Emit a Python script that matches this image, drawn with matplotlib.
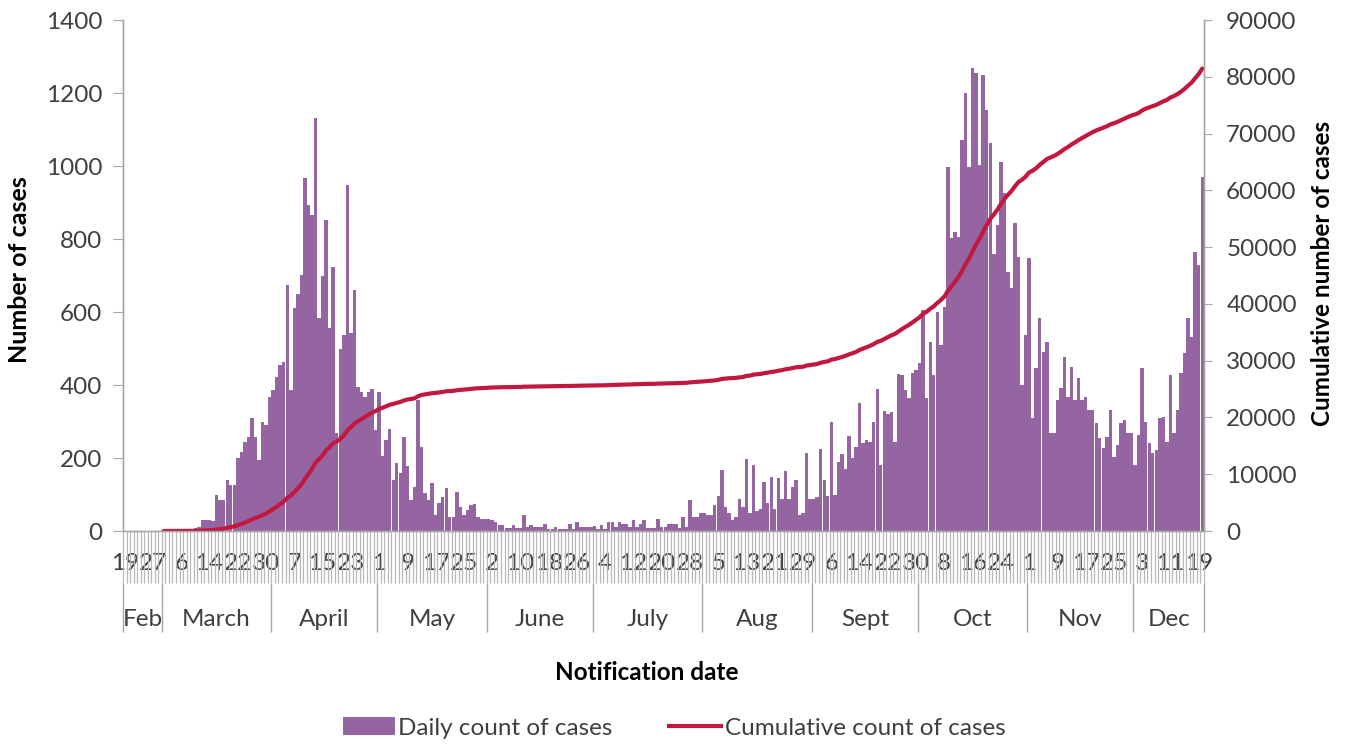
import numpy as np
import pandas as pd
import matplotlib
matplotlib.use('Agg')
import matplotlib.pyplot as plt
from matplotlib.patches import Patch
from matplotlib.lines import Line2D

plt.rcParams['font.family'] = ['Lato', 'DejaVu Sans']

# daily notified cases, 19 Feb - 20 Dec 2020
feb = [0, 0, 0, 0, 0, 0, 0, 0, 0, 0, 0]
mar = [1, 1, 1, 2, 2, 3, 4, 5, 6, 8, 12, 30, 30, 30, 28, 99, 85, 85, 140, 126,
       126, 200, 216, 244, 258, 310, 258, 195, 299, 290, 367]
apr = [386, 422, 455, 463, 674, 386, 611, 650, 701, 967, 893, 866, 1132, 584, 700,
       852, 556, 723, 268, 500, 537, 948, 542, 660, 395, 380, 367, 380, 390, 277]
may = [380, 205, 250, 280, 140, 185, 160, 258, 177, 85, 121, 359, 231, 104, 85,
       131, 44, 76, 94, 117, 38, 38, 107, 66, 44, 57, 71, 74, 37, 33, 33]
jun = [33, 30, 24, 16, 16, 8, 8, 16, 8, 8, 44, 12, 16, 12, 12, 12, 20, 5, 5, 10,
       5, 5, 5, 20, 5, 24, 10, 10, 12, 10]
jul = [15, 6, 16, 6, 26, 26, 12, 24, 20, 20, 12, 30, 12, 20, 30, 8, 8, 8, 33, 12,
       12, 20, 20, 20, 8, 38, 10, 85, 38, 38, 50]
aug = [50, 44, 44, 71, 97, 167, 66, 50, 30, 38, 89, 66, 196, 50, 181, 55, 60, 135,
       76, 149, 60, 144, 89, 164, 89, 121, 140, 44, 50, 215, 89]
sep = [89, 94, 226, 140, 97, 300, 100, 190, 210, 170, 260, 200, 230, 350, 240,
       250, 245, 300, 390, 180, 330, 320, 325, 245, 430, 427, 386, 364, 433, 441]
oct_ = [460, 605, 364, 518, 427, 600, 510, 614, 997, 803, 820, 806, 1071, 1199, 997,
        1268, 1254, 1002, 1249, 1153, 1062, 760, 838, 1010, 925, 709, 665, 843, 752,
        399, 537]
nov = [748, 309, 447, 584, 491, 518, 268, 268, 359, 391, 477, 367, 449, 359, 419,
       359, 367, 331, 331, 295, 255, 227, 258, 331, 203, 236, 295, 304, 268, 268]
dec = [181, 264, 446, 300, 240, 213, 222, 309, 313, 245, 427, 268, 331, 432, 487,
       583, 532, 764, 728, 970]

month_names = ['Feb', 'March', 'April', 'May', 'June', 'July', 'Aug', 'Sept',
               'Oct', 'Nov', 'Dec']
month_data = [feb, mar, apr, may, jun, jul, aug, sep, oct_, nov, dec]

bar_color = '#9565A2'
line_color = '#C2173F'
grey = '#A6A6A6'
text_color = '#3F3F3F'
fs = 17.5
title_fs = 17.5

daily = np.array([v for m in month_data for v in m])
n = len(daily)
dates = pd.date_range('2020-02-19', periods=n, freq='D')
cumulative = np.cumsum(daily).astype(float)
cumulative[dates < '2020-03-01'] = np.nan
x = np.arange(n)

W, H = 1347, 744
fig = plt.figure(figsize=(W / 100, H / 100), dpi=100)
ax = fig.add_axes([123 / W, 1 - 531 / H, (1204 - 123) / W, 511 / H])

ax.bar(x, daily, width=0.97, color=bar_color, linewidth=0)
ax.set_xlim(-0.5, n - 0.5)
ax.set_ylim(0, 1400)
ax.set_yticks(range(0, 1401, 200))

ax2 = ax.twinx()
ax2.plot(x, cumulative, color=line_color, lw=3, solid_capstyle='round')
ax2.set_ylim(0, 90000)
ax2.set_yticks(range(0, 90001, 10000))

for a in (ax, ax2):
    a.spines['top'].set_visible(False)
    for s in ('left', 'right', 'bottom'):
        a.spines[s].set_color(grey)
        a.spines[s].set_linewidth(1)

ax.tick_params(axis='y', direction='out', length=7, color=grey, labelsize=fs,
               labelcolor=text_color, pad=8)
ax2.tick_params(axis='y', direction='out', length=6, color=grey, labelsize=fs,
                labelcolor=text_color, pad=10)

# day labels every 8 days, dense tick marks between every day
label_idx = x[::8]
ax.set_xticks(label_idx, [str(d.day) for d in dates[label_idx]])
ax.set_xticks(np.arange(-0.5, n, 1), minor=True)
ax.tick_params(axis='x', which='major', length=0, labelsize=fs,
               labelcolor=text_color, pad=16)
ax.tick_params(axis='x', which='minor', length=37.4, width=0.9, color='#B8B8B8')

# month row
tr = ax.get_xaxis_transform()
month_start = [0]
for m in month_data:
    month_start.append(month_start[-1] + len(m))
ax.vlines(np.array(month_start) - 0.5, -101 / 511, -52 / 511, transform=tr,
          colors=grey, lw=1, clip_on=False)
for name, a, b in zip(month_names, month_start[:-1], month_start[1:]):
    ax.text((a + b - 1) / 2, -89 / 511, name, transform=tr, ha='center',
            va='center', fontsize=fs, color=text_color)

fig.text(647 / W, 1 - 672 / H, 'Notification date', ha='center', va='center',
         fontsize=title_fs, fontweight='bold', color='black')
fig.text(20 / W, 1 - 270 / H, 'Number of cases', ha='center', va='center',
         rotation=90, fontsize=title_fs + 0.5, fontweight='bold', color='black')
fig.text(1323 / W, 1 - 273 / H, 'Cumulative number of cases', ha='center',
         va='center', rotation=90, fontsize=title_fs, fontweight='bold', color='black')

handles = [Patch(facecolor=bar_color, edgecolor='none'),
           Line2D([], [], color=line_color, lw=3)]
fig.legend(handles, ['Daily count of cases', 'Cumulative count of cases'],
           loc='center', bbox_to_anchor=(674 / W, 1 - 728 / H), ncol=2,
           frameon=False, fontsize=fs, handlelength=2.15, handleheight=0.75,
           handletextpad=0.15, columnspacing=2.3, labelcolor=text_color)

fig.savefig('out.png', dpi=100)
